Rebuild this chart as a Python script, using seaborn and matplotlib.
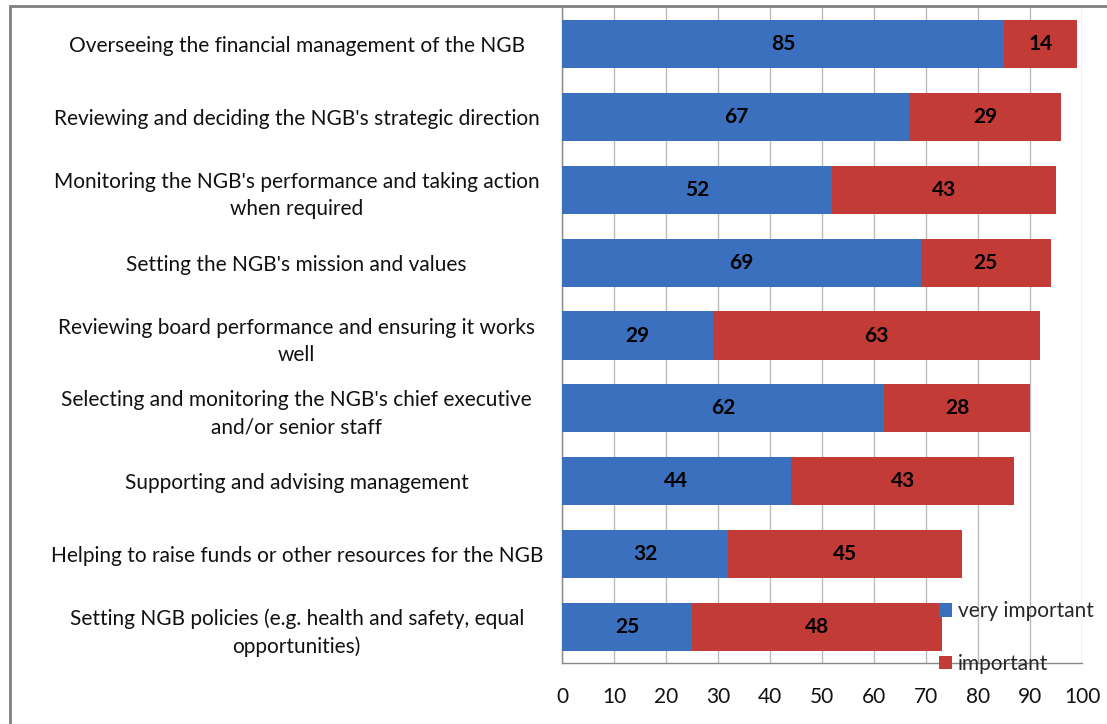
import numpy as np
import pandas as pd
import matplotlib
matplotlib.use("Agg")
import matplotlib.pyplot as plt
import seaborn as sns
from matplotlib.patches import Rectangle

roles = [
    "Overseeing the financial management of the NGB",
    "Reviewing and deciding the NGB's strategic direction",
    "Monitoring the NGB's performance and taking action\nwhen required",
    "Setting the NGB's mission and values",
    "Reviewing board performance and ensuring it works\nwell",
    "Selecting and monitoring the NGB's chief executive\nand/or senior staff",
    "Supporting and advising management",
    "Helping to raise funds or other resources for the NGB",
    "Setting NGB policies (e.g. health and safety, equal\nopportunities)",
]
very_important = [85, 67, 52, 69, 29, 62, 44, 32, 25]
important = [14, 29, 43, 25, 63, 28, 43, 45, 48]
series_names = ["very important", "important"]

blue = "#3A70BE"
red = "#C23B36"

sns.set_style("white")
plt.rcParams["font.family"] = ["Lato", "DejaVu Sans"]

df = pd.DataFrame({"role": roles, "very": very_important, "imp": important})

fig = plt.figure(figsize=(11.07, 7.24), dpi=100)
ax = fig.add_axes([562 / 1107, 1 - 663 / 724, (1082 - 562) / 1107, (663 - 8) / 724])

# blue part through seaborn, red part stacked on top of it
sns.barplot(data=df, y="role", x="very", color=blue, orient="h", width=0.66,
            saturation=1, linewidth=0, ax=ax, zorder=3)
pos = np.arange(len(roles))
ax.barh(pos, df["imp"], left=df["very"], height=0.66, color=red,
        linewidth=0, zorder=3)

for i, (v, m) in enumerate(zip(very_important, important)):
    ax.text(v / 2, i, str(v), ha="center", va="center", fontsize=15,
            fontweight="bold", color="black", zorder=4)
    ax.text(v + m / 2, i, str(m), ha="center", va="center", fontsize=15,
            fontweight="bold", color="black", zorder=4)

ax.set_xlim(0, 100)
ax.set_ylim(len(roles) - 0.5, -0.5)
ax.set_xticks(np.arange(0, 101, 10))
ax.xaxis.grid(True, color="#BBBBBB", linewidth=1, zorder=0)
ax.set_axisbelow(True)
ax.set_xlabel("")
ax.set_ylabel("")

ax.set_yticks(pos)
ax.set_yticklabels(roles, fontsize=15, ha="center", multialignment="center",
                   linespacing=1.45, color="#111111")
ax.tick_params(axis="y", which="major", length=0, pad=191)
ax.set_yticks(np.arange(-0.5, len(roles)), minor=True)
ax.tick_params(axis="y", which="minor", length=7, color="#888888", width=1)
ax.tick_params(axis="x", length=7, color="#888888", width=1, labelsize=15,
               pad=10, labelcolor="#111111")

for s in ["top", "right"]:
    ax.spines[s].set_visible(False)
for s in ["left", "bottom"]:
    ax.spines[s].set_color("#888888")
    ax.spines[s].set_linewidth(1)

fig.legend([ax.containers[0], ax.containers[1]], series_names, loc="upper left",
           bbox_to_anchor=(929 / 1107, 1 - 591 / 724), frameon=False, fontsize=15,
           handlelength=0.6, handleheight=0.6, handletextpad=0.3,
           labelspacing=1.55, borderpad=0)

fig.patches.append(Rectangle((10 / 1107, -0.1), 1.2, 1 - 6 / 724 + 0.1,
                             transform=fig.transFigure, fill=False,
                             edgecolor="#808080", linewidth=2))

fig.savefig("out.png", dpi=100)
